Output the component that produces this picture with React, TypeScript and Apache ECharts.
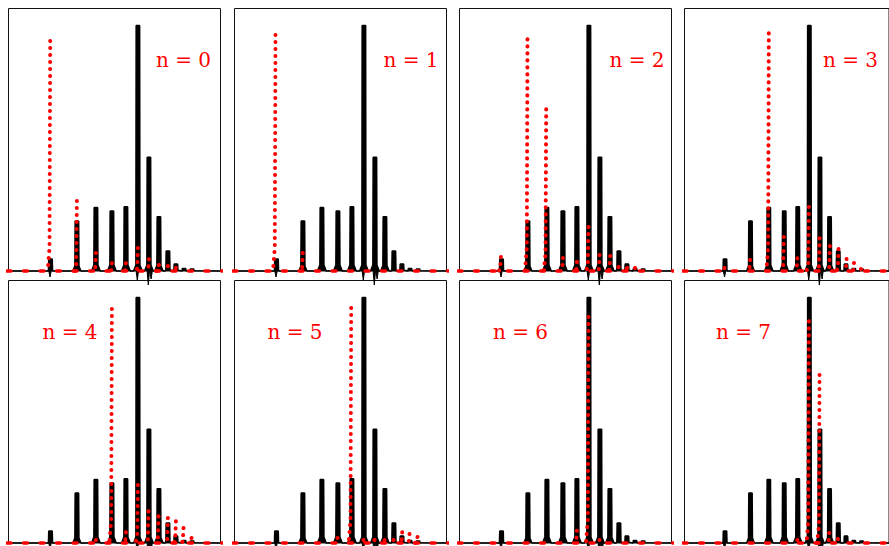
import React, { useEffect, useRef } from "react";
import * as echarts from "echarts";

// ---- data (x: position inside a panel, y: peak height, both in the panel's own units) ----
const panelLabels = ["n = 0", "n = 1", "n = 2", "n = 3", "n = 4", "n = 5", "n = 6", "n = 7"];

// black reference spectrum (same in every panel)
const blackPeakPos = [42, 68.4, 87.4, 103.4, 117.4, 129.4, 140.4, 150.4, 159.4, 167.4, 175.5, 183.5];
const blackPeakHeight = [12, 50, 63.5, 60, 64.3, 245.5, 113.7, 54.3, 20, 7, 2.5, 2];
const blackDipPos = [41.5, 128.8, 139.8, 142.6];
const blackDipDepth = [-6, -9, -14, -8];

// red spectra, one per n
const redPos0 = [41.7, 68.4, 87.4, 103.4, 117.4, 129.4, 140.4, 150.4, 159.4, 167.4];
const redHeight0 = [230, 70, 18, 7.7, 7.7, 23, 11.7, 6, 5, 3];
const redPos1 = [41, 68.3];
const redHeight1 = [236, 18];
const redPos2 = [41.4, 68, 86.7, 103.4, 117.4, 129, 140, 150.7, 159, 167.5, 175.5];
const redHeight2 = [14, 231.7, 161.7, 13, 9, 44, 16, 15, 4, 3, 3];
const redPos3 = [41.4, 68, 87.4, 103, 117, 129, 140, 150.7, 159.7, 168, 175.7, 183];
const redHeight3 = [3, 11, 237.7, 34, 12.7, 64, 32.7, 25, 22, 12, 8, 2];
const redPos4 = [87.4, 103.4, 117.4, 129.4, 140, 150, 159.4, 167.4, 175, 183];
const redHeight4 = [3, 234, 10.7, 58, 31.7, 26.7, 25, 21.7, 15, 5];
const redPos5 = [103, 116.7, 129, 140, 150, 159, 167.7, 175, 183];
const redHeight5 = [5, 235, 3, 3, 3, 3, 10.7, 9, 6];
const redPos6 = [117.4, 129, 140];
const redHeight6 = [12.3, 226, 3];
const redPos7 = [117, 129, 140, 150, 159];
const redHeight7 = [3, 221.7, 168, 10, 4];

const redPositions = [redPos0, redPos1, redPos2, redPos3, redPos4, redPos5, redPos6, redPos7];
const redHeights = [redHeight0, redHeight1, redHeight2, redHeight3, redHeight4, redHeight5, redHeight6, redHeight7];

// ---- layout ----
const X_MAX = 212;
const Y_MAX = 262.5;
const panelLeft = [8.5, 234.5, 459.5, 684.5];
const panelTop = [8.5, 280.5];
const labelPos: [number, number][] = [
  [183.5, 60], [411, 60], [637, 60], [850.5, 60],
  [70, 332], [295, 332], [520.5, 332], [743.5, 332],
];

function blackOutline(): (number | string)[][] {
  const pts: (number | string)[][] = [[-1, 0]];
  blackPeakPos.forEach((c, i) => {
    const h = blackPeakHeight[i];
    const half = 1.7;
    const flare = half + Math.min(2.6, h / 22);
    const wing = Math.min(h, 6, h * 0.1);
    pts.push([c - flare, 0], [c - half - 0.3, wing], [c - half, h], [c + half, h], [c + half + 0.3, wing], [c + flare, 0]);
  });
  pts.push([X_MAX + 1, 0]);
  return pts;
}

function blackDips(): (number | string)[][] {
  const pts: (number | string)[][] = [];
  blackDipPos.forEach((c, i) => {
    pts.push([c - 1.2, 0], [c, blackDipDepth[i]], [c + 1.2, 0], [c + 1.2, "-"]);
  });
  return pts;
}

function redTrace(pos: number[], hs: number[]): (number | string)[][] {
  const pts: (number | string)[][] = [];
  pos.forEach((c, i) => {
    const h = hs[i];
    pts.push([c, h], [c - 0.7, h * 0.1], [c - 2.5, 0], [c, "-"]);
  });
  return pts;
}

export default function App() {
  const ref = useRef<HTMLDivElement>(null);
  useEffect(() => {
    if (!ref.current) return;
    const chart = echarts.init(ref.current, undefined, { renderer: "svg" });
    const grids: any[] = [];
    const xAxes: any[] = [];
    const yAxes: any[] = [];
    const series: any[] = [];
    const graphics: any[] = [];
    const black = blackOutline();
    const dips = blackDips();
    for (let i = 0; i < 8; i++) {
      const row = Math.floor(i / 4);
      const col = i % 4;
      grids.push({
        left: panelLeft[col],
        top: panelTop[row],
        width: X_MAX,
        height: Y_MAX,
        show: true,
        borderColor: "#111",
        borderWidth: 1,
        backgroundColor: "transparent",
      });
      xAxes.push({ gridIndex: i, type: "value", min: 0, max: X_MAX, show: false });
      yAxes.push({ gridIndex: i, type: "value", min: 0, max: Y_MAX, show: false });
      series.push({
        type: "line",
        xAxisIndex: i,
        yAxisIndex: i,
        data: black,
        symbol: "none",
        clip: false,
        z: 2,
        lineStyle: { color: "#000", width: 1.6 },
        areaStyle: { color: "#000", opacity: 1 },
        silent: true,
      });
      series.push({
        type: "line",
        xAxisIndex: i,
        yAxisIndex: i,
        data: dips,
        symbol: "none",
        clip: false,
        z: 2,
        lineStyle: { color: "#000", width: 1 },
        areaStyle: { color: "#000", opacity: 1 },
        silent: true,
      });
      series.push({
        type: "line",
        xAxisIndex: i,
        yAxisIndex: i,
        data: [[-1.5, 0], [X_MAX + 2, 0]],
        symbol: "none",
        clip: false,
        z: 3,
        lineStyle: { color: "#ff0000", width: 3.4, type: [4, 12.5], cap: "round" },
        silent: true,
      });
      series.push({
        type: "line",
        xAxisIndex: i,
        yAxisIndex: i,
        data: redTrace(redPositions[i], redHeights[i]),
        symbol: "none",
        clip: false,
        connectNulls: false,
        z: 4,
        lineStyle: { color: "#ff0000", width: 4, type: [0.1, 6.9], cap: "round", join: "round" },
        silent: true,
      });
      graphics.push({
        type: "text",
        x: labelPos[i][0],
        y: labelPos[i][1],
        z: 10,
        style: {
          text: panelLabels[i],
          fill: "#ff0000",
          font: '20px "DejaVu Serif"',
          textAlign: "center",
          textVerticalAlign: "middle",
          align: "center",
          verticalAlign: "middle",
        },
      });
    }
    chart.setOption({
      animation: false,
      backgroundColor: "#fff",
      grid: grids,
      xAxis: xAxes,
      yAxis: yAxes,
      series,
      graphic: graphics,
    });
    return () => chart.dispose();
  }, []);
  return (
    <div
      ref={ref}
      style={{ position: "absolute", left: 0, top: 0, width: 889, height: 546 }}
    />
  );
}
